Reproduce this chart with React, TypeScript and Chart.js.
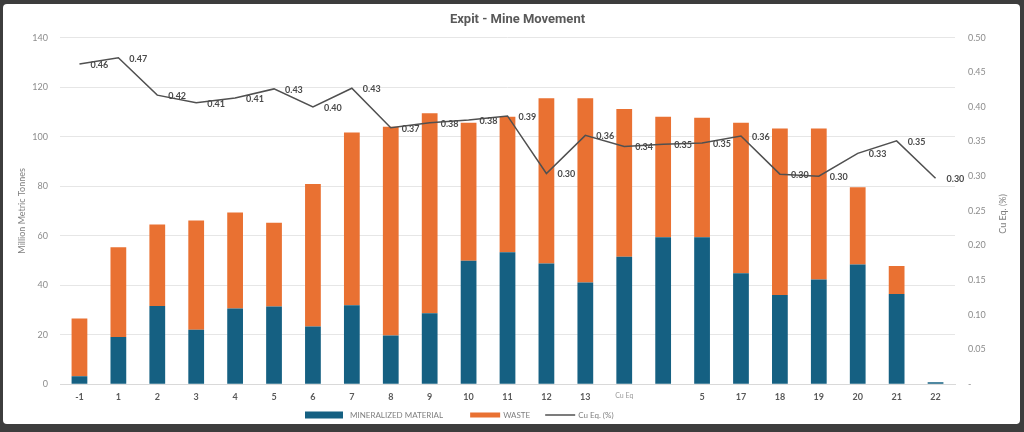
import React, { useEffect, useRef } from "react";
import { Chart, registerables } from "chart.js";

Chart.register(...registerables);

const categories = ["-1", "1", "2", "3", "4", "5", "6", "7", "8", "9", "10", "11", "12", "13", "Cu Eq", "", "5", "17", "18", "19", "20", "21", "22"];
const mineralized = [3.2, 19.1, 31.6, 22.0, 30.6, 31.4, 23.3, 31.9, 19.7, 28.7, 49.9, 53.3, 48.8, 41.1, 51.5, 59.4, 59.4, 44.8, 36.0, 42.3, 48.3, 36.4, 0.8];
const waste = [23.3, 36.2, 32.9, 44.1, 38.8, 33.8, 57.6, 69.8, 84.3, 80.7, 55.7, 54.7, 66.7, 74.4, 59.7, 48.6, 48.2, 60.8, 67.3, 61.0, 31.3, 11.3, 0];
const cuEq = [0.462, 0.471, 0.417, 0.406, 0.413, 0.426, 0.4, 0.427, 0.37, 0.377, 0.381, 0.387, 0.304, 0.359, 0.343, 0.346, 0.348, 0.358, 0.303, 0.3, 0.333, 0.351, 0.297];
const leftTicks = { min: 0, max: 140, step: 20 };
const rightTicks = { min: 0, max: 0.5, step: 0.05 };
const legendItems = ["MINERALIZED MATERIAL", "WASTE", "Cu Eq. (%)"];
const rightTitle = "Cu Eq. (%)";

const FONT = 'Lato, "Open Sans", sans-serif';
const BLUE = "#156082";
const ORANGE = "#E97132";
const LINE = "#505050";

const lineLabelPlugin = {
  id: "lineLabels",
  afterDatasetsDraw(chart: any) {
    const idx = chart.data.datasets.findIndex((d: any) => d.type === "line");
    if (idx < 0) return;
    const meta = chart.getDatasetMeta(idx);
    const ctx = chart.ctx;
    ctx.save();
    ctx.font = "bold 9px " + FONT;
    ctx.fillStyle = "#4a4a4a";
    ctx.textAlign = "left";
    ctx.textBaseline = "middle";
    meta.data.forEach((pt: any, i: number) => {
      ctx.fillText(cuEq[i].toFixed(2), pt.x + 11, pt.y + 1);
    });
    ctx.restore();
  },
};

const extrasPlugin = {
  id: "extras",
  afterDraw(chart: any) {
    const ctx = chart.ctx;
    const area = chart.chartArea;
    ctx.save();
    ctx.font = "9px " + FONT;
    ctx.fillStyle = "#7f7f7f";
    ctx.textAlign = "center";
    ctx.textBaseline = "middle";
    ctx.translate(1003, (area.top + area.bottom) / 2 + 3);
    ctx.rotate(-Math.PI / 2);
    ctx.fillText(rightTitle, 0, 0);
    ctx.restore();

    ctx.save();
    ctx.font = "8px " + FONT;
    ctx.textBaseline = "middle";
    ctx.textAlign = "left";
    const y = 415;
    let x = 305;
    ctx.fillStyle = BLUE;
    ctx.fillRect(x, y - 3.5, 38, 7);
    x += 38 + 7;
    ctx.fillStyle = "#7f7f7f";
    ctx.fillText(legendItems[0], x, y);
    x += ctx.measureText(legendItems[0]).width + 27;
    ctx.fillStyle = ORANGE;
    ctx.fillRect(x, y - 2.5, 30, 5);
    x += 30 + 3;
    ctx.fillStyle = "#7f7f7f";
    ctx.fillText(legendItems[1], x, y);
    x += ctx.measureText(legendItems[1]).width + 15;
    ctx.strokeStyle = LINE;
    ctx.lineWidth = 1.5;
    ctx.beginPath();
    ctx.moveTo(x, y);
    ctx.lineTo(x + 30, y);
    ctx.stroke();
    x += 30 + 3;
    ctx.fillText(legendItems[2], x, y);
    ctx.restore();
  },
};

export default function App() {
  const ref = useRef<HTMLCanvasElement | null>(null);

  useEffect(() => {
    document.body.style.margin = "0";
    const canvas = ref.current;
    if (!canvas) return;
    const chart = new Chart(canvas, {
      type: "bar",
      data: {
        labels: categories,
        datasets: [
          {
            type: "line",
            label: legendItems[2],
            data: cuEq,
            yAxisID: "y1",
            borderColor: LINE,
            backgroundColor: LINE,
            borderWidth: 1.5,
            pointRadius: 0,
            tension: 0,
            order: 0,
          } as any,
          {
            label: legendItems[0],
            data: mineralized,
            backgroundColor: BLUE,
            yAxisID: "y",
            stack: "s",
            order: 1,
            barPercentage: 0.45,
            categoryPercentage: 0.9,
          },
          {
            label: legendItems[1],
            data: waste,
            backgroundColor: ORANGE,
            yAxisID: "y",
            stack: "s",
            order: 1,
            barPercentage: 0.45,
            categoryPercentage: 0.9,
          },
        ],
      },
      options: {
        responsive: false,
        animation: false,
        devicePixelRatio: 1,
        layout: { padding: { left: 17, right: 6, top: 8, bottom: 23 } },
        plugins: {
          title: {
            display: true,
            text: "Expit - Mine Movement",
            color: "#595959",
            font: { family: "Roboto", size: 13, weight: "bold" },
            padding: { top: 4, bottom: 10 },
          },
          legend: { display: false },
          tooltip: { enabled: false },
        },
        scales: {
          x: {
            stacked: true,
            grid: { display: false, drawTicks: false },
            border: { color: "#d9d9d9" },
            ticks: {
              autoSkip: false,
              maxRotation: 0,
              padding: 7,
              color: (c: any) => (c.index === 14 ? "#9a9a9a" : "#595959"),
              font: (c: any) =>
                c.index === 14
                  ? { family: FONT, size: 7 }
                  : { family: FONT, size: 9, weight: "bold" },
            },
          },
          y: {
            stacked: true,
            position: "left",
            min: leftTicks.min,
            max: leftTicks.max,
            ticks: { stepSize: leftTicks.step, color: "#8c8c8c", font: { family: FONT, size: 9 }, padding: 12 },
            grid: { color: "#e6e6e6", drawTicks: false },
            border: { display: false },
            title: {
              display: true,
              text: "Million Metric Tonnes",
              color: "#7f7f7f",
              font: { family: FONT, size: 9 },
              padding: 0,
            },
            afterFit: (s: any) => {
              s.width = 43;
            },
          },
          y1: {
            position: "right",
            stacked: false,
            min: rightTicks.min,
            max: rightTicks.max,
            ticks: {
              stepSize: rightTicks.step,
              color: "#8c8c8c",
              font: { family: FONT, size: 9 },
              padding: 13,
              callback: (v: any) => (Number(v) === 0 ? "-" : Number(v).toFixed(2)),
            },
            grid: { display: false, drawTicks: false },
            border: { display: false },
            afterFit: (s: any) => {
              s.width = 63;
            },
          },
        },
      } as any,
      plugins: [lineLabelPlugin, extrasPlugin],
    });
    return () => chart.destroy();
  }, []);

  return (
    <div style={{ position: "relative", width: 1024, height: 432, background: "#3d3d3d", overflow: "hidden" }}>
      <div
        style={{
          position: "absolute",
          left: 3,
          top: 4,
          width: 1017,
          height: 420,
          background: "#ffffff",
          borderRadius: 4,
        }}
      />
      <canvas ref={ref} width={1024} height={432} style={{ position: "absolute", left: 0, top: 0 }} />
    </div>
  );
}
